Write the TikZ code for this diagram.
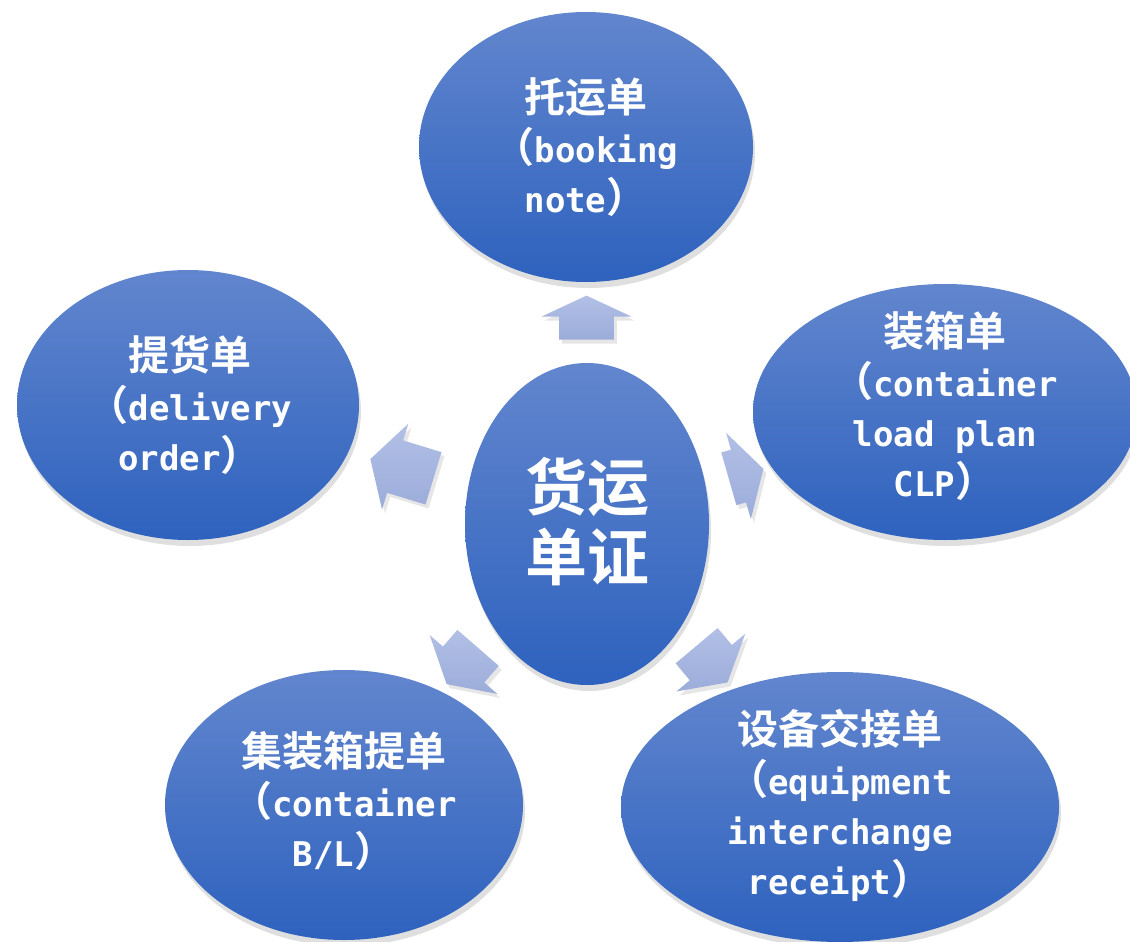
\documentclass[tikz,border=0pt]{standalone}
\usepackage{fontspec}
\newfontfamily\cjk{Noto Sans CJK SC}[BoldFont={Noto Sans CJK SC Bold}]
\newfontfamily\lat{DejaVu Sans Mono}[Scale=0.83]
\usetikzlibrary{shapes.geometric}
\usetikzlibrary{shapes.arrows}
\usetikzlibrary{shadows}
\definecolor{ovaltop}{RGB}{98,134,206}
\definecolor{ovalbot}{RGB}{46,98,190}
\definecolor{arrtop}{RGB}{178,192,230}
\definecolor{arrbot}{RGB}{156,172,218}
\newcommand{\zh}[1]{{\cjk\bfseries #1}}
\newcommand{\en}[1]{{\lat\bfseries #1}}

\begin{document}
\begin{tikzpicture}[x=0.5pt,y=-0.5pt,
  oval/.style={ellipse, draw=none, top color=ovaltop, bottom color=ovalbot, inner sep=0pt,
    drop shadow={opacity=0.25, shadow xshift=1pt, shadow yshift=-3pt}},
  blockarr/.style={single arrow, draw=none, inner xsep=0pt, inner ysep=13.5pt,
    single arrow head extend=8.75pt, single arrow tip angle=120,
    top color=arrtop, bottom color=arrbot,
    drop shadow={opacity=0.2, shadow xshift=1.5pt, shadow yshift=-2pt}},
  lbl/.style={text=white, align=center, font=\cjk\bfseries\fontsize{20.5}{25}\selectfont}
]
\useasboundingbox (0,0) rectangle (1130,942);

% arrows from the hub
\node[blockarr, minimum height=22pt, rotate=90, single arrow tip angle=130] (arrUp) at (586.5,324) {};
\node[blockarr, minimum height=33pt, rotate=163] (arrLeft) at (409.5,471) {};
\node[blockarr, minimum height=18pt, rotate=16] (arrRight) at (738.5,476) {};
\node[blockarr, minimum height=24pt, rotate=229] (arrDownLeft) at (467.5,660) {};
\node[blockarr, minimum height=24pt, rotate=-50] (arrDownRight) at (707,658) {};

% ovals
\node[oval, minimum width=122pt, minimum height=161pt] (hub) at (587,524) {};
\node[oval, minimum width=167pt, minimum height=135pt] (booking) at (586,147) {};
\node[oval, minimum width=171pt, minimum height=135pt] (delivery) at (188,405) {};
\node[oval, minimum width=192pt, minimum height=128pt] (clp) at (945,412) {};
\node[oval, minimum width=179pt, minimum height=135pt] (containerbl) at (344,805) {};
\node[oval, minimum width=219pt, minimum height=135pt] (eir) at (840,807) {};

% texts
\node[lbl, font=\cjk\bfseries\fontsize{31}{35}\selectfont] (hubtxt) at ([yshift=1pt]hub) {货运\\单证};
\node[lbl] (bookingtxt) at (booking) {\zh{托运单}\\\zh{（}\en{booking}\\\en{note}\zh{）}};
\node[lbl] (deliverytxt) at ([xshift=1pt]delivery) {\zh{提货单}\\\zh{（}\en{delivery}\\\en{order}\zh{）}};
\node[lbl] (clptxt) at ([yshift=3pt]clp) {\zh{装箱单}\\\zh{（}\en{container}\\\en{load plan}\\\en{CLP}\zh{）}};
\node[lbl] (containerbltxt) at ([yshift=2pt]containerbl) {\zh{集装箱提单}\\\zh{（}\en{container}\\\en{B/L}\zh{）}};
\node[lbl] (eirtxt) at ([yshift=1pt]eir) {\zh{设备交接单}\\\zh{（}\en{equipment}\\\en{interchange}\\\en{receipt}\zh{）}};

\end{tikzpicture}
\end{document}
